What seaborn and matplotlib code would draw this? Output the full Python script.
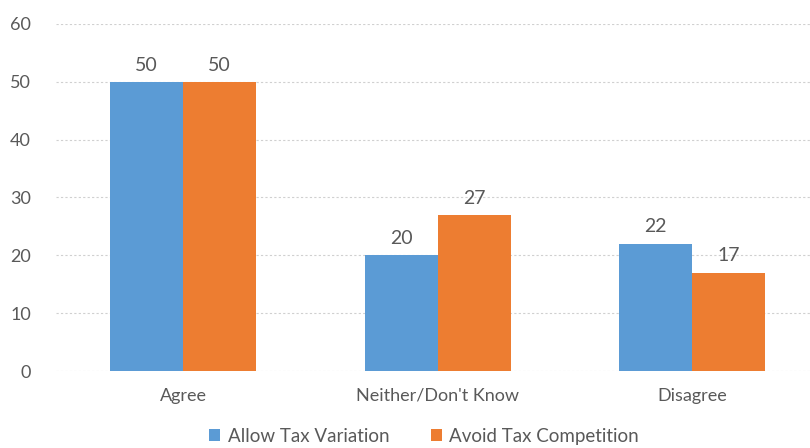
import matplotlib
matplotlib.use("Agg")
import matplotlib.pyplot as plt
import seaborn as sns
import pandas as pd

categories = ["Agree", "Neither/Don't Know", "Disagree"]
series_names = ["Allow Tax Variation", "Avoid Tax Competition"]
allow_tax_variation = [50, 20, 22]
avoid_tax_competition = [50, 27, 17]
y_ticks = [0, 10, 20, 30, 40, 50, 60]
colors = ["#5B9BD5", "#ED7D31"]

df = pd.DataFrame({
    "category": categories * 2,
    "series": [series_names[0]] * 3 + [series_names[1]] * 3,
    "value": allow_tax_variation + avoid_tax_competition,
})

sns.set_theme(style="white")
plt.rcParams["font.family"] = ["Lato", "DejaVu Sans"]
text_color = "#595959"

fig = plt.figure(figsize=(8.1, 4.48), dpi=100)
ax = fig.add_axes([56 / 810, 1 - 371 / 448, 1 - 56 / 810, (371 - 24) / 448])

sns.barplot(data=df, x="category", y="value", hue="series", order=categories,
            hue_order=series_names, palette=colors, width=0.574, gap=0,
            saturation=1, linewidth=0, ax=ax, legend=True)

for container in ax.containers:
    ax.bar_label(container, fmt="%d", padding=6, fontsize=14, color=text_color)

ax.set_ylim(0, 60)
ax.set_yticks(y_ticks)
ax.set_xlim(-0.5, 2.463)
ax.yaxis.grid(True, color="#D0D0D0", linestyle=(0, (2, 2)), linewidth=0.8)
ax.set_axisbelow(True)
for s in ax.spines.values():
    s.set_visible(False)
ax.set_xlabel("")
ax.set_ylabel("")
ax.tick_params(axis="y", length=0, pad=18, labelsize=13, labelcolor=text_color)
ax.tick_params(axis="x", length=0, pad=12, labelsize=13, labelcolor=text_color)

handles, labels = ax.get_legend_handles_labels()
ax.legend_.remove()
fig.legend(handles, labels, loc="center", bbox_to_anchor=(424 / 810, 1 - 436 / 448),
           ncol=2, frameon=False, fontsize=13.5, labelcolor=text_color,
           handlelength=0.6, handleheight=0.6, handletextpad=0.4, columnspacing=2.2)

fig.savefig("out.png", dpi=100)
